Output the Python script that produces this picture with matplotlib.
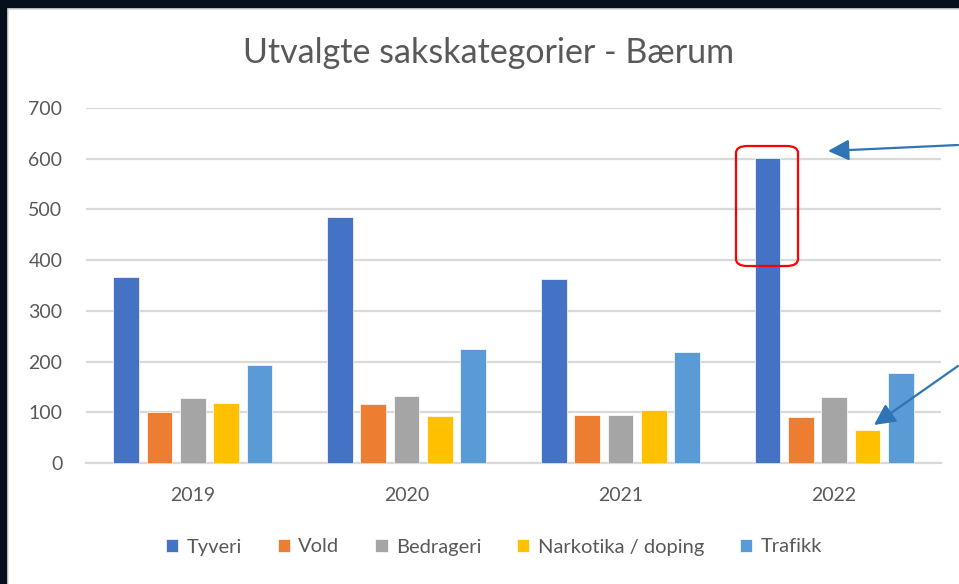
import numpy as np
import matplotlib
matplotlib.use("Agg")
import matplotlib.pyplot as plt
from matplotlib.patches import Rectangle, FancyBboxPatch, FancyArrowPatch

plt.rcParams['font.family'] = ['Lato', 'DejaVu Sans']

years = ['2019', '2020', '2021', '2022']
series = ['Tyveri', 'Vold', 'Bedrageri', 'Narkotika / doping', 'Trafikk']
tyveri = [366, 486, 362, 602]
vold = [100, 116, 95, 90]
bedrageri = [128, 133, 95, 131]
narkotika = [118, 93, 105, 65]
trafikk = [194, 225, 219, 178]
colors = ['#4472C4', '#ED7D31', '#A5A5A5', '#FFC000', '#5B9BD5']

W, H = 959, 584
fig = plt.figure(figsize=(W / 100, H / 100), dpi=100)
fig.patch.set_facecolor('#06101c')


def px(x, y):
    # pixel position (from top-left) -> figure fraction
    return x / W, 1 - y / H


# white chart panel
panel = Rectangle((8 / W, -0.01), 1, 1 - 9 / H + 0.01, transform=fig.transFigure,
                  facecolor='white', edgecolor='#d9d9d9', lw=1.2, zorder=-5)
fig.add_artist(panel)

ax = fig.add_axes([86 / W, 1 - 463 / H, (941 - 86) / W, (463 - 108) / H])
ax.set_facecolor('none')
ax.set_zorder(1)

x = np.arange(len(years))
step = 0.156
width = 0.12
data = [tyveri, vold, bedrageri, narkotika, trafikk]
for i, (name, vals) in enumerate(zip(series, data)):
    ax.bar(x + (i - 2) * step, vals, width, color=colors[i], label=name,
           edgecolor='white', linewidth=0.5, zorder=3)

ax.set_xlim(-0.5, 3.5)
ax.set_ylim(0, 700)
ax.set_yticks(range(0, 701, 100))
ax.set_xticks(x)
ax.set_xticklabels(years)
ax.grid(axis='y', color='#d9d9d9', lw=1.6, zorder=0)
ax.set_axisbelow(True)
for s in ['top', 'right', 'left']:
    ax.spines[s].set_visible(False)
ax.spines['bottom'].set_color('#d9d9d9')
ax.spines['bottom'].set_linewidth(1.6)
ax.tick_params(axis='both', length=0, labelsize=14, labelcolor='#595959')
ax.tick_params(axis='y', pad=17)
ax.tick_params(axis='x', pad=17)

fig.text(489 / W, 1 - 53 / H, 'Utvalgte sakskategorier - Bærum', ha='center',
         va='center', fontsize=24.5, color='#595959')

leg = fig.legend(loc='center', bbox_to_anchor=(494 / W, 1 - 547 / H), ncol=5,
                 frameon=False, fontsize=14.5, handlelength=0.6, handleheight=0.6,
                 handletextpad=0.4, columnspacing=1.8)
for t in leg.get_texts():
    t.set_color('#595959')

# red highlight box
bx0, by0 = px(736, 266)
bx1, by1 = px(798, 146)
box = FancyBboxPatch((bx0, by0), bx1 - bx0, by1 - by0,
                     boxstyle='round,pad=0,rounding_size=0.012',
                     transform=fig.transFigure, fill=False, edgecolor='#FF0000',
                     lw=1.6, zorder=10)
fig.add_artist(box)

# arrows
arrow_col = '#2E75B6'
for (tx, ty), (hx, hy) in [((958, 145), (828, 151)), ((958, 366), (874, 425))]:
    fig.add_artist(FancyArrowPatch(
        px(tx, ty), px(hx, hy), transform=fig.transFigure,
        arrowstyle='-|>,head_length=8,head_width=4', color=arrow_col,
        lw=1.6, mutation_scale=1.6, shrinkA=0, shrinkB=0, zorder=10))

fig.savefig('out.png', dpi=100, facecolor=fig.get_facecolor())
